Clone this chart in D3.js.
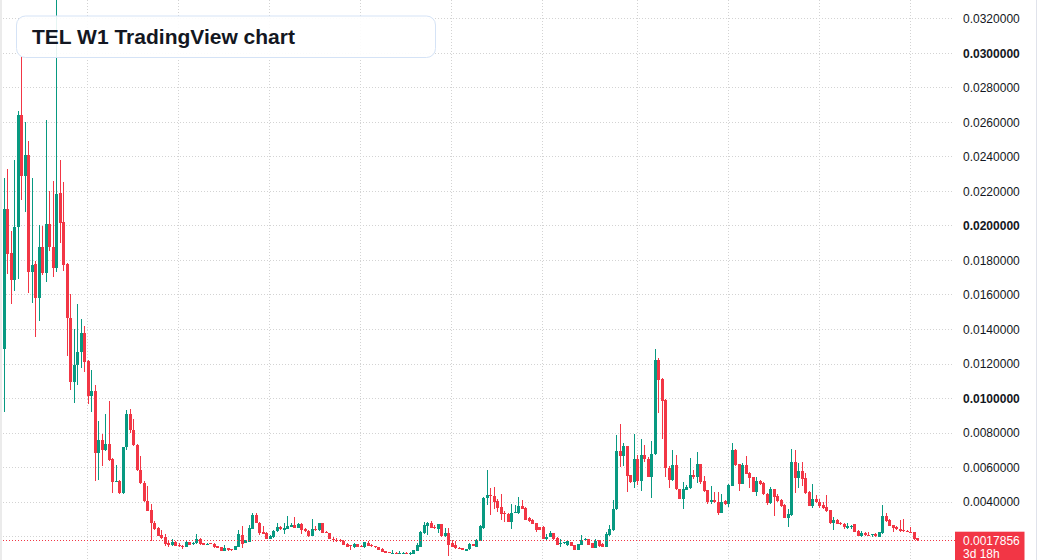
<!DOCTYPE html>
<html>
<head>
<meta charset="utf-8">
<script src="https://cdn.jsdelivr.net/npm/d3@7"></script>
<style>
  html, body { margin: 0; padding: 0; background: #ffffff; }
  svg { display: block; }
</style>
</head>
<body>
<svg id="chart" width="1037" height="560"></svg>
<script>
// ---------------- DATA (weekly candles, TEL) ----------------
const open = [
0.0129,0.02097,0.01843,0.01689,0.01992,0.02642,0.0229,0.0241,0.01733,0.01778,
0.01581,0.01876,0.0173,0.0201,0.01876,0.01754,0.0219,0.02021,0.01778,0.01468,
0.01097,0.01197,0.01267,0.01381,0.01217,0.01015,0.01042,0.00684,0.00758,0.007,
0.00735,0.00651,0.00518,0.00525,0.00452,0.00719,0.00909,0.0082,0.00733,0.00589,
0.0051,0.00409,0.00355,0.00282,0.00248,0.00212,0.00196,0.001614,0.001518,0.001711,
0.001537,0.001479,0.001422,0.001672,0.001576,0.001614,0.001865,0.001634,0.001556,0.001634,
0.001595,0.00146,0.001402,0.00119,0.001325,0.001267,0.001229,0.001422,0.002096,0.001653,
0.001711,0.002443,0.003272,0.00279,0.002289,0.002193,0.001884,0.001961,0.002308,0.002578,
0.002405,0.002462,0.002578,0.002655,0.00252,0.002732,0.002443,0.002308,0.002058,0.002424,
0.002385,0.002771,0.002289,0.002193,0.001884,0.001826,0.001807,0.001769,0.001576,0.001499,
0.001383,0.001576,0.00146,0.001383,0.001653,0.001537,0.00146,0.001383,0.001287,0.001171,
0.001094,0.001036,0.001074,0.001036,0.001036,0.001074,0.001016,0.001016,0.00119,0.001422,
0.002231,0.002636,0.002771,0.002578,0.002462,0.002732,0.002038,0.002193,0.001614,0.001518,
0.001364,0.001325,0.00119,0.001267,0.001556,0.001422,0.001769,0.002482,0.004217,0.004429,
0.004352,0.004082,0.003735,0.003388,0.00333,0.002867,0.003388,0.003349,0.003773,0.003658,
0.003079,0.002983,0.00279,0.002559,0.002578,0.001884,0.002,0.002193,0.001942,0.001595,
0.001614,0.001499,0.001691,0.001518,0.001229,0.001537,0.001807,0.001865,0.001614,0.001364,
0.001788,0.00158,0.00141,0.00211,0.00238,0.00359,0.00695,0.006655,0.007235,0.005554,
0.005168,0.006482,0.005225,0.006713,0.00652,0.005457,0.006771,0.012221,0.011119,0.009902,
0.005999,0.005264,0.006134,0.004762,0.004182,0.004723,0.00482,0.005554,0.005457,0.006192,
0.005225,0.004684,0.004008,0.004143,0.004027,0.00337,0.004046,0.003873,0.004955,0.007003,
0.006192,0.005071,0.006134,0.005689,0.005457,0.004588,0.005206,0.005129,0.004491,0.00395,
0.004742,0.004337,0.004143,0.003815,0.0031,0.003235,0.006327,0.0054,0.005805,0.0054,
0.004588,0.003776,0.004163,0.004027,0.003815,0.003718,0.003525,0.002791,0.002945,0.00281,
0.002713,0.00252,0.002559,0.002713,0.002308,0.002037,0.002211,0.002076,0.002095,0.002172,
0.001979,0.002211,0.003177,0.002945,0.002655,0.002559,0.002462,0.002366,0.002346,0.002288,
0.00225,0.001902];

const high = [
0.0228,0.02329,0.01969,0.02381,0.02667,0.0298,0.02602,0.02491,0.02279,0.01795,
0.02004,0.02,0.02613,0.02201,0.02259,0.0345,0.02381,0.02252,0.01783,0.01603,
0.01401,0.01548,0.0146,0.0142,0.01222,0.01164,0.01077,0.00868,0.00796,0.00913,
0.00984,0.00653,0.00618,0.0053,0.00722,0.00936,0.00938,0.00884,0.00735,0.00665,
0.00525,0.00496,0.0039,0.0029,0.00258,0.002385,0.002154,0.001769,0.001865,0.001749,
0.001614,0.001518,0.001769,0.001711,0.001711,0.002154,0.001923,0.00166,0.00162,0.00165,
0.001634,0.00148,0.001422,0.001518,0.001364,0.00129,0.00148,0.002385,0.002636,0.001826,
0.002675,0.003349,0.00337,0.002867,0.002636,0.002289,0.002116,0.002385,0.002771,0.002636,
0.002771,0.003195,0.00281,0.003156,0.002771,0.002771,0.002482,0.002385,0.00302,0.002636,
0.00279,0.00279,0.002347,0.00221,0.001961,0.001903,0.00184,0.00179,0.001614,0.001537,
0.001614,0.001595,0.001518,0.00169,0.00173,0.00156,0.00148,0.0014,0.001325,0.00119,
0.00111,0.001248,0.00109,0.001152,0.00109,0.001113,0.001094,0.00124,0.001614,0.002347,
0.002867,0.002828,0.002906,0.002675,0.00274,0.00275,0.00252,0.002482,0.001807,0.001769,
0.00139,0.00135,0.00129,0.001614,0.00159,0.001846,0.002675,0.004313,0.005855,0.004834,
0.004853,0.004178,0.004467,0.003484,0.003388,0.003889,0.003831,0.004313,0.00412,0.003696,
0.003118,0.003002,0.002809,0.00258,0.002617,0.002154,0.002347,0.00221,0.001961,0.001846,
0.00172,0.00178,0.00171,0.00154,0.0016,0.002096,0.001942,0.00189,0.00164,0.001846,
0.00181,0.00164,0.00227,0.00266,0.00411,0.00788,0.00853,0.007448,0.00726,0.00558,
0.00797,0.006713,0.007641,0.007293,0.006617,0.007525,0.012859,0.012337,0.011197,0.01,
0.006076,0.007003,0.006713,0.00478,0.005168,0.004974,0.006559,0.005844,0.006887,0.00623,
0.005515,0.004723,0.004916,0.004588,0.004588,0.004453,0.004143,0.005071,0.007448,0.007061,
0.00623,0.006269,0.006655,0.005747,0.00548,0.005457,0.005303,0.005168,0.00453,0.004878,
0.004781,0.004491,0.004201,0.003873,0.003602,0.007061,0.007003,0.006269,0.006308,0.005689,
0.004646,0.005071,0.004395,0.004201,0.004008,0.004395,0.003563,0.003138,0.003003,0.002849,
0.00281,0.002791,0.002655,0.002752,0.002366,0.002308,0.002269,0.002269,0.002172,0.00223,
0.00226,0.003815,0.00339,0.003042,0.002694,0.002597,0.002945,0.003023,0.002404,0.002559,
0.002269,0.00194];

const low = [
0.00922,0.0172,0.01546,0.01625,0.01694,0.02153,0.02081,0.0161,0.01555,0.01354,
0.01451,0.01714,0.01677,0.01855,0.01704,0.01733,0.01901,0.0174,0.01246,0.01048,
0.00975,0.01077,0.0118,0.01153,0.00971,0.00922,0.00525,0.00531,0.00609,0.00696,
0.00641,0.00452,0.00514,0.0045,0.0045,0.007,0.008,0.00728,0.0058,0.00505,
0.004,0.00348,0.00175,0.0024,0.00202,0.00189,0.00145,0.001383,0.001479,0.001479,
0.001422,0.001306,0.00141,0.001499,0.001537,0.001576,0.001537,0.00152,0.00153,0.00156,
0.001364,0.00135,0.001171,0.001171,0.00119,0.00119,0.00121,0.0014,0.001364,0.001614,
0.001672,0.002424,0.002771,0.002096,0.002135,0.001865,0.001865,0.001942,0.00227,0.002405,
0.002154,0.002443,0.00254,0.002482,0.002482,0.002173,0.00227,0.002,0.002019,0.002347,
0.002347,0.002212,0.002193,0.00186,0.001672,0.001691,0.00172,0.00152,0.001383,0.001229,
0.001364,0.0014,0.001383,0.001364,0.001441,0.00142,0.00136,0.00123,0.001113,0.00106,
0.00104,0.001016,0.00102,0.001016,0.00102,0.001016,0.000959,0.001,0.001171,0.001402,
0.002154,0.002096,0.002482,0.002424,0.002231,0.002,0.00198,0.000901,0.001383,0.001306,
0.00126,0.00121,0.00117,0.001229,0.00146,0.001383,0.00173,0.002462,0.003831,0.003234,
0.00358,0.003446,0.002964,0.002867,0.00283,0.002462,0.003349,0.003311,0.00358,0.002944,
0.002848,0.002713,0.002289,0.00237,0.001846,0.001807,0.00198,0.00183,0.001499,0.001422,
0.00159,0.00148,0.00144,0.00121,0.00121,0.001499,0.001749,0.00152,0.00135,0.001325,
0.00142,0.0014,0.00139,0.00206,0.00234,0.00357,0.00604,0.006076,0.004568,0.00511,
0.004839,0.004974,0.004646,0.006327,0.00543,0.00424,0.006713,0.009187,0.00768,0.005457,
0.004839,0.005225,0.004723,0.00416,0.003621,0.004684,0.004781,0.005361,0.00511,0.005071,
0.004588,0.003911,0.003873,0.003969,0.003273,0.00335,0.003815,0.003718,0.004916,0.006076,
0.004646,0.00505,0.005612,0.004839,0.004568,0.004376,0.004974,0.004414,0.003853,0.003911,
0.003216,0.004027,0.003718,0.003081,0.002559,0.003216,0.00453,0.004839,0.004916,0.004491,
0.003757,0.00366,0.00395,0.003679,0.003602,0.003428,0.002752,0.002404,0.002713,0.002655,
0.002462,0.002443,0.002462,0.002269,0.002018,0.001979,0.002037,0.002018,0.001979,0.001979,
0.00196,0.002172,0.002868,0.002597,0.002269,0.002366,0.002288,0.002288,0.002269,0.002211,
0.001825,0.001728];

const close = [
0.02097,0.01838,0.01689,0.01992,0.02642,0.0229,0.0241,0.01733,0.01772,0.01581,
0.01876,0.0173,0.0201,0.01876,0.01754,0.02184,0.02017,0.01772,0.01468,0.01097,
0.01197,0.01267,0.01381,0.01213,0.01015,0.01042,0.00684,0.00758,0.007,0.00735,
0.00647,0.00516,0.00525,0.00452,0.00719,0.00909,0.0082,0.00733,0.00584,0.0051,
0.00409,0.00351,0.00278,0.00245,0.00206,0.00193,0.00155,0.001537,0.001672,0.00149,
0.001479,0.001383,0.001672,0.001537,0.001634,0.001865,0.001576,0.001537,0.001595,0.001576,
0.001383,0.001364,0.00119,0.001364,0.001229,0.001209,0.00146,0.002135,0.001576,0.001788,
0.002482,0.003272,0.00279,0.002193,0.002154,0.001884,0.002019,0.002347,0.002578,0.002443,
0.002501,0.002636,0.002655,0.002501,0.002752,0.002385,0.002308,0.002038,0.002443,0.002366,
0.002771,0.002231,0.002212,0.001884,0.001826,0.001769,0.001749,0.001537,0.001402,0.00146,
0.001576,0.001422,0.001422,0.001672,0.001479,0.001441,0.001383,0.001248,0.001132,0.001074,
0.001055,0.001074,0.001036,0.001074,0.001074,0.001036,0.001055,0.001229,0.001518,0.002289,
0.002675,0.002771,0.00252,0.002482,0.002732,0.002038,0.002231,0.001518,0.001422,0.001325,
0.001287,0.001229,0.001267,0.001556,0.001479,0.001807,0.002617,0.004255,0.00439,0.00439,
0.004005,0.003638,0.003311,0.003311,0.002848,0.003388,0.003426,0.003773,0.003619,0.002964,
0.002886,0.002732,0.002405,0.002385,0.001884,0.002,0.002193,0.001846,0.001537,0.001653,
0.001691,0.00173,0.00146,0.001229,0.001576,0.001807,0.001865,0.001537,0.001364,0.00173,
0.001441,0.00142,0.00214,0.00245,0.00363,0.00695,0.00666,0.007235,0.005515,0.005168,
0.006482,0.005206,0.006713,0.006482,0.005457,0.00681,0.012221,0.011061,0.009863,0.005999,
0.005303,0.006134,0.004762,0.004182,0.004762,0.004878,0.005554,0.005457,0.006192,0.005168,
0.004646,0.004008,0.004143,0.004008,0.00337,0.004027,0.003911,0.004974,0.007003,0.006134,
0.005071,0.006172,0.005651,0.0054,0.004588,0.005225,0.005033,0.004453,0.00395,0.004742,
0.004298,0.004066,0.003757,0.0031,0.003312,0.006327,0.0054,0.005805,0.005361,0.00453,
0.003776,0.004163,0.004008,0.003757,0.003679,0.003486,0.002791,0.002945,0.002752,0.002733,
0.002539,0.002597,0.002617,0.002288,0.002037,0.002211,0.002076,0.002037,0.002134,0.002018,
0.00225,0.003177,0.002907,0.002617,0.002501,0.002424,0.002327,0.002308,0.002288,0.00223,
0.001883,0.0017856];

// price-axis grid values and the labelled ticks
const gridPrices = [0.002,0.004,0.006,0.008,0.010,0.012,0.014,0.016,0.018,0.020,0.022,0.024,0.026,0.028,0.030,0.032];
const labelPrices = [0.004,0.006,0.008,0.010,0.012,0.014,0.016,0.018,0.020,0.022,0.024,0.026,0.028,0.030,0.032];
const priceTickLabels = ["0.0040000","0.0060000","0.0080000","0.0100000","0.0120000","0.0140000","0.0160000","0.0180000","0.0200000","0.0220000","0.0240000","0.0260000","0.0280000","0.0300000","0.0320000"];
const boldTicks = [0.010, 0.020, 0.030];
// half-year time boundaries, expressed in bar index units
const timeGridBars = [23.9, 49.9, 75.9, 101.9, 127.9, 153.9, 180.8, 206.8, 232.8, 258.9];
const lastPrice = 0.0017856;
const lastPriceLabel = "0.0017856";
const countdownLabel = "3d 18h";
const titleText = "TEL W1 TradingView chart";

// ---------------- DRAW ----------------
const W = 1037, H = 560;
const plotRight = 955;
const UP = "#089981", DOWN = "#f23645";
const FONT = "'Liberation Sans', Arial, Helvetica, sans-serif";

const N = Math.min(open.length, high.length, low.length, close.length);
const svg = d3.select("#chart");

const x = d3.scaleLinear().domain([0, 261]).range([4.3, 4.3 + 3.5 * 261]);
const y = d3.scaleLinear().domain([0.002, 0.032]).range([536.7, 18.75]);

svg.append("rect").attr("width", W).attr("height", H).attr("fill", "#ffffff");

svg.append("defs").append("clipPath").attr("id", "plotClip")
  .append("rect").attr("x", 0).attr("y", 0).attr("width", plotRight).attr("height", H);

const grid = svg.append("g").attr("shape-rendering", "crispEdges");
grid.selectAll("line.h").data(gridPrices).join("line")
  .attr("class", "h")
  .attr("x1", 0).attr("x2", plotRight - 2)
  .attr("y1", d => Math.floor(y(d)) + 0.5).attr("y2", d => Math.floor(y(d)) + 0.5)
  .attr("stroke", "#d3d3d3").attr("stroke-width", 1).attr("stroke-dasharray", "1,2");
grid.selectAll("line.v").data(timeGridBars).join("line")
  .attr("class", "v")
  .attr("x1", d => Math.floor(x(d)) + 0.5).attr("x2", d => Math.floor(x(d)) + 0.5)
  .attr("y1", 0).attr("y2", H)
  .attr("stroke", "#d3d3d3").attr("stroke-width", 1).attr("stroke-dasharray", "1,2");

// candles
const data = d3.range(N).map(i => ({ i, o: open[i], h: high[i], l: low[i], c: close[i] }));
const cg = svg.append("g").attr("clip-path", "url(#plotClip)").attr("shape-rendering", "crispEdges");
const candle = cg.selectAll("g.c").data(data).join("g").attr("class", "c");
candle.append("rect")
  .attr("x", d => Math.round(x(d.i) - 1.5) + 1)
  .attr("width", 1)
  .attr("y", d => Math.round(y(d.h)))
  .attr("height", d => Math.max(1, Math.round(y(d.l)) - Math.round(y(d.h))))
  .attr("fill", d => d.c >= d.o ? UP : DOWN);
candle.append("rect")
  .attr("x", d => Math.round(x(d.i) - 1.5))
  .attr("width", 3)
  .attr("y", d => Math.round(y(Math.max(d.o, d.c))))
  .attr("height", d => Math.max(1, Math.round(y(Math.min(d.o, d.c))) - Math.round(y(Math.max(d.o, d.c)))))
  .attr("fill", d => d.c >= d.o ? UP : DOWN);

// last price dotted line
svg.append("line")
  .attr("x1", 0).attr("x2", plotRight)
  .attr("y1", Math.floor(y(lastPrice)) + 0.5).attr("y2", Math.floor(y(lastPrice)) + 0.5)
  .attr("stroke", DOWN).attr("stroke-width", 1).attr("stroke-dasharray", "1,2")
  .attr("shape-rendering", "crispEdges");

// left edge strip and right border
svg.append("rect").attr("x", 0).attr("y", 0).attr("width", 2).attr("height", H).attr("fill", "#ebebeb");
svg.append("line").attr("x1", 1036.5).attr("x2", 1036.5).attr("y1", 0).attr("y2", H)
  .attr("stroke", "#e0e3eb").attr("stroke-width", 1);

// title box
svg.append("rect")
  .attr("x", 16.5).attr("y", 16).attr("width", 419).attr("height", 41.5).attr("rx", 9).attr("ry", 9)
  .attr("fill", "#ffffff").attr("fill-opacity", 0.9)
  .attr("stroke", "#d5e3f6").attr("stroke-width", 1);
svg.append("text")
  .attr("x", 32).attr("y", 44.3)
  .attr("font-family", FONT).attr("font-size", 21).attr("font-weight", "bold")
  .attr("fill", "#131722")
  .text(titleText);

// price axis labels
svg.append("g").selectAll("text").data(labelPrices).join("text")
  .attr("x", 963).attr("y", d => y(d) + 4.3)
  .attr("font-family", FONT).attr("font-size", 12)
  .attr("font-weight", d => boldTicks.some(b => Math.abs(b - d) < 1e-9) ? "bold" : "normal")
  .attr("fill", "#131722")
  .text((d, i) => priceTickLabels[i]);

// last price label
svg.append("rect")
  .attr("x", 955).attr("y", 531.7).attr("width", 69.5).attr("height", 32)
  .attr("fill", DOWN);
svg.append("text")
  .attr("x", 963).attr("y", 545.3)
  .attr("font-family", FONT).attr("font-size", 12).attr("fill", "#ffffff")
  .text(lastPriceLabel);
svg.append("text")
  .attr("x", 963).attr("y", 557.8)
  .attr("font-family", FONT).attr("font-size", 12).attr("fill", "#ffffff")
  .text(countdownLabel);
</script>
</body>
</html>
